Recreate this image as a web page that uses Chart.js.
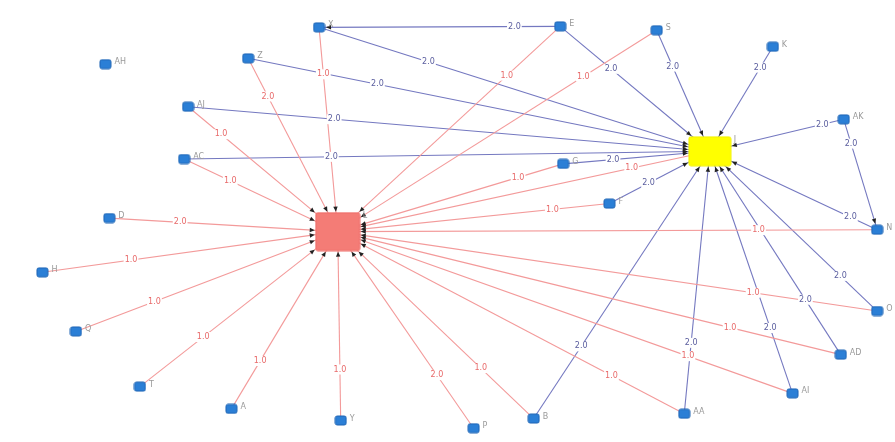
<!DOCTYPE html>
<html>
<head>
<meta charset="utf-8">
<script src="https://cdn.jsdelivr.net/npm/chart.js@4/dist/chart.umd.min.js"></script>
<style>
  html, body { margin: 0; padding: 0; background: #fff; }
  #wrap { width: 895px; height: 442px; }
</style>
</head>
<body>
<div id="wrap"><canvas id="graph" width="895" height="442"></canvas></div>
<script>
// node layout (graph units = page pixels)
const nodeNames = ['AH', 'X', 'E', 'S', 'K', 'Z', 'AJ', 'AK', 'AC', 'G', 'F', 'D', 'H', 'Q', 'T', 'A', 'Y', 'P', 'B', 'AA', 'AI', 'AD', 'N', 'O', 'L', 'J'];
const nodeX = [100, 317, 562, 660, 778, 245, 184, 850, 180, 565, 612, 104, 36, 70, 135, 228, 339, 474, 535, 688, 798, 847, 884, 884, 336, 714];
const nodeY = [59, 21, 20, 24, 41, 53, 103, 116, 157, 162, 203, 218, 274, 335, 392, 415, 427, 435, 425, 420, 399, 359, 230, 314, 232, 149];

// edges: source -> target, weight, where along the edge the weight is written
const edgeFrom = ['Z', 'AJ', 'AC', 'D', 'H', 'Q', 'T', 'A', 'Y', 'P', 'B', 'X', 'E', 'S', 'G', 'F', 'N', 'O', 'AD', 'AI', 'AA', 'J',
                  'X', 'E', 'S', 'K', 'AK', 'Z', 'AJ', 'AC', 'G', 'F', 'N', 'O', 'AD', 'AI', 'AA', 'B', 'E', 'AK'];
const edgeTo = ['L', 'L', 'L', 'L', 'L', 'L', 'L', 'L', 'L', 'L', 'L', 'L', 'L', 'L', 'L', 'L', 'L', 'L', 'L', 'L', 'L', 'L',
                'J', 'J', 'J', 'J', 'J', 'J', 'J', 'J', 'J', 'J', 'J', 'J', 'J', 'J', 'J', 'J', 'X', 'N'];
const edgeWeight = [2.0, 1.0, 1.0, 2.0, 1.0, 1.0, 1.0, 1.0, 1.0, 2.0, 1.0, 1.0, 1.0, 1.0, 1.0, 1.0, 1.0, 1.0, 1.0, 1.0, 1.0, 1.0,
                    2.0, 2.0, 2.0, 2.0, 2.0, 2.0, 2.0, 2.0, 2.0, 2.0, 2.0, 2.0, 2.0, 2.0, 2.0, 2.0, 2.0, 2.0];
const edgeLabelAt = [0.22, 0.22, 0.3, 0.31, 0.3, 0.3, 0.32, 0.27, 0.27, 0.27, 0.27, 0.23, 0.24, 0.23, 0.2, 0.21, 0.22, 0.23, 0.22, 0.23, 0.21, 0.21,
                     0.28, 0.34, 0.3, 0.2, 0.16, 0.28, 0.28, 0.28, 0.34, 0.39, 0.16, 0.22, 0.27, 0.27, 0.27, 0.27, 0.19, 0.22];

const RED_EDGE = '#f39a9a';
const BLUE_EDGE = '#7478c0';

// node box sizes [w, h]
function boxSize(name) {
    if (name === 'L') return [44, 38];
    if (name === 'J') return [42, 29];
    return [12, 10];
}

function makeBox(w, h, fill, stroke, r) {
    const c = document.createElement('canvas');
    c.width = w + 2;
    c.height = h + 2;
    const g = c.getContext('2d');
    g.beginPath();
    g.roundRect(1, 1, w, h, r);
    g.fillStyle = fill;
    g.fill();
    g.lineWidth = 1;
    g.strokeStyle = stroke;
    g.stroke();
    return c;
}

const blueBox = makeBox(11, 9, '#2b7fd6', '#1e64b4', 2);
const redBox = makeBox(44, 38, '#f47c76', '#ee6b66', 2);
const yellowBox = makeBox(42, 29, '#ffff00', '#f2f200', 2);

function idx(name) { return nodeNames.indexOf(name); }

const edgeDatasets = edgeFrom.map((s, i) => {
    const a = idx(s), b = idx(edgeTo[i]);
    return {
        label: s + '-' + edgeTo[i],
        data: [{ x: nodeX[a], y: nodeY[a] }, { x: nodeX[b], y: nodeY[b] }],
        showLine: true,
        borderColor: edgeTo[i] === 'L' ? RED_EDGE : BLUE_EDGE,
        borderWidth: 1.1,
        pointRadius: 0,
        order: 2
    };
});

const nodeDataset = {
    label: 'nodes',
    data: nodeNames.map((n, i) => ({ x: nodeX[i], y: nodeY[i] })),
    pointStyle: nodeNames.map(n => n === 'L' ? redBox : (n === 'J' ? yellowBox : blueBox)),
    pointRadius: 6,
    order: 0
};

// arrow heads, edge weights and node names
const graphText = {
    id: 'graphText',
    afterDatasetsDraw(chart) {
        const ctx = chart.ctx;
        const xs = chart.scales.x, ys = chart.scales.y;
        ctx.save();

        // arrow heads at the target boxes
        edgeFrom.forEach((s, i) => {
            const a = idx(s), b = idx(edgeTo[i]);
            const sx = xs.getPixelForValue(nodeX[a]), sy = ys.getPixelForValue(nodeY[a]);
            const tx = xs.getPixelForValue(nodeX[b]), ty = ys.getPixelForValue(nodeY[b]);
            const [w, h] = boxSize(edgeTo[i]);
            const dx = sx - tx, dy = sy - ty;
            const len = Math.hypot(dx, dy);
            const k = Math.min((w / 2 + 1) / Math.abs(dx || 1e-6), (h / 2 + 1) / Math.abs(dy || 1e-6));
            const px = tx + dx * k, py = ty + dy * k;
            const ux = dx / len, uy = dy / len;
            ctx.beginPath();
            ctx.moveTo(px, py);
            ctx.lineTo(px + ux * 5 - uy * 2.2, py + uy * 5 + ux * 2.2);
            ctx.lineTo(px + ux * 5 + uy * 2.2, py + uy * 5 - ux * 2.2);
            ctx.closePath();
            ctx.fillStyle = '#222222';
            ctx.fill();
        });

        // weights
        ctx.font = '8px "DejaVu Sans", sans-serif';
        ctx.textAlign = 'center';
        ctx.textBaseline = 'middle';
        edgeFrom.forEach((s, i) => {
            const a = idx(s), b = idx(edgeTo[i]);
            const t = edgeLabelAt[i];
            const x = xs.getPixelForValue(nodeX[a] + (nodeX[b] - nodeX[a]) * t);
            const y = ys.getPixelForValue(nodeY[a] + (nodeY[b] - nodeY[a]) * t);
            const txt = edgeWeight[i].toFixed(1);
            const tw = ctx.measureText(txt).width;
            ctx.fillStyle = '#ffffff';
            ctx.fillRect(x - tw / 2 - 1, y - 5, tw + 2, 10);
            ctx.fillStyle = edgeTo[i] === 'L' ? '#e86a6a' : '#5a5d9e';
            ctx.fillText(txt, x, y);
        });

        // node names
        ctx.textAlign = 'left';
        ctx.fillStyle = '#9a9a9a';
        nodeNames.forEach((n, i) => {
            const [w, h] = boxSize(n);
            const x = xs.getPixelForValue(nodeX[i]) + w / 2 + 3;
            const y = ys.getPixelForValue(nodeY[i]) - h / 2 + 3;
            ctx.fillText(n, x, y);
        });
        ctx.restore();
    }
};

new Chart(document.getElementById('graph').getContext('2d'), {
    type: 'scatter',
    data: { datasets: [nodeDataset].concat(edgeDatasets) },
    options: {
        responsive: false,
        animation: false,
        layout: { padding: 0 },
        plugins: { legend: { display: false }, tooltip: { enabled: false } },
        scales: {
            x: { type: 'linear', min: 0, max: 895, display: false },
            y: { type: 'linear', min: 0, max: 442, reverse: true, display: false }
        }
    },
    plugins: [graphText]
});
</script>
</body>
</html>
